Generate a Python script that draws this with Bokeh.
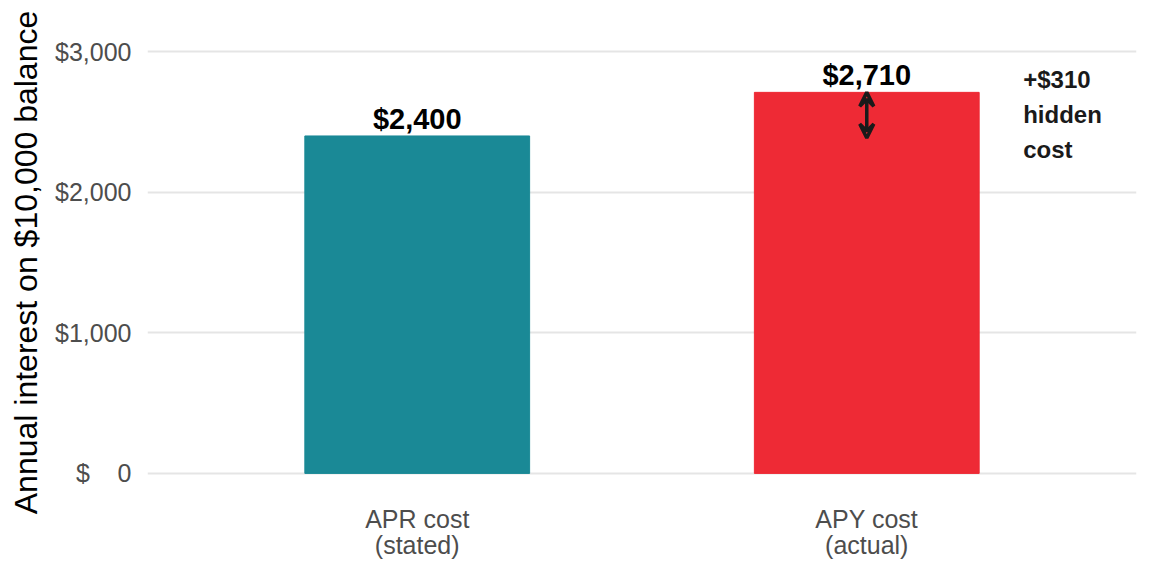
from bokeh.plotting import figure
from bokeh.models import Range1d, FixedTicker, Arrow, VeeHead, ColumnDataSource
from bokeh.embed import file_html
from bokeh.resources import INLINE
from bokeh.core.properties import value

categories = ["APR cost\n(stated)", "APY cost\n(actual)"]
costs = [2400, 2710]
positions = [1, 2]
bar_colors = ["#1A8996", "#EE2A35"]
value_labels = ["$2,400", "$2,710"]
y_ticks = [0, 1000, 2000, 3000]
y_tick_labels = ["$\u2007\u20070", "$1,000", "$2,000", "$3,000"]
note_text = "+$310\nhidden\ncost"

FONT = "Liberation Sans"

p = figure(width=1152, height=576, output_backend="svg", toolbar_location=None,
           x_range=Range1d(0.4, 2.6), y_range=Range1d(-150, 3150),
           min_border_left=147, min_border_right=16, min_border_top=30, min_border_bottom=82)
p.outline_line_color = None
p.background_fill_color = "white"

src = ColumnDataSource(dict(x=positions, top=costs, color=bar_colors, lab=value_labels))
p.vbar(x="x", top="top", bottom=0, width=0.5, color="color", source=src)

p.text(x="x", y="top", text="lab", source=src, text_align="center", text_baseline="alphabetic",
       y_offset=-17, text_font=value(FONT), text_font_style="bold", text_font_size="29px",
       text_color="black")

p.add_layout(Arrow(x_start=positions[1], y_start=costs[1], x_end=positions[1], y_end=costs[0] - 15,
                   start=VeeHead(size=14, line_color="#1a1a1a", line_width=3.5, fill_color=None),
                   end=VeeHead(size=14, line_color="#1a1a1a", line_width=3.5, fill_color=None),
                   line_color="#1a1a1a", line_width=3.5))

p.text(x=[2.348], y=[2552], text=[note_text], text_align="left", text_baseline="middle",
       text_line_height=1.3, text_font=value(FONT), text_font_style="bold",
       text_font_size="24px", text_color="#1a1a1a")

# axes
p.xaxis.ticker = FixedTicker(ticks=positions)
p.xaxis.major_label_overrides = {pos: c for pos, c in zip(positions, categories)}
p.yaxis.ticker = FixedTicker(ticks=y_ticks)
p.yaxis.major_label_overrides = {t: l for t, l in zip(y_ticks, y_tick_labels)}
for ax in (p.xaxis, p.yaxis):
    ax.axis_line_color = None
    ax.major_tick_line_color = None
    ax.minor_tick_line_color = None
    ax.major_label_text_font = FONT
    ax.major_label_text_font_size = "25px"
    ax.major_label_text_color = "#4d4d4d"
p.xaxis.major_label_standoff = 4
p.xaxis.major_label_text_line_height = 0.95
p.yaxis.major_label_standoff = 10
p.yaxis.axis_label = "Annual interest on $10,000 balance"
p.yaxis.axis_label_text_font = FONT
p.yaxis.axis_label_text_font_size = "32px"
p.yaxis.axis_label_text_font_style = "normal"
p.yaxis.axis_label_text_color = "black"
p.yaxis.axis_label_standoff = 8

p.xgrid.grid_line_color = None
p.ygrid.ticker = FixedTicker(ticks=y_ticks)
p.ygrid.grid_line_color = "#e5e5e5"
p.ygrid.grid_line_width = 2

open("out.html", "w").write(file_html(p, INLINE))
